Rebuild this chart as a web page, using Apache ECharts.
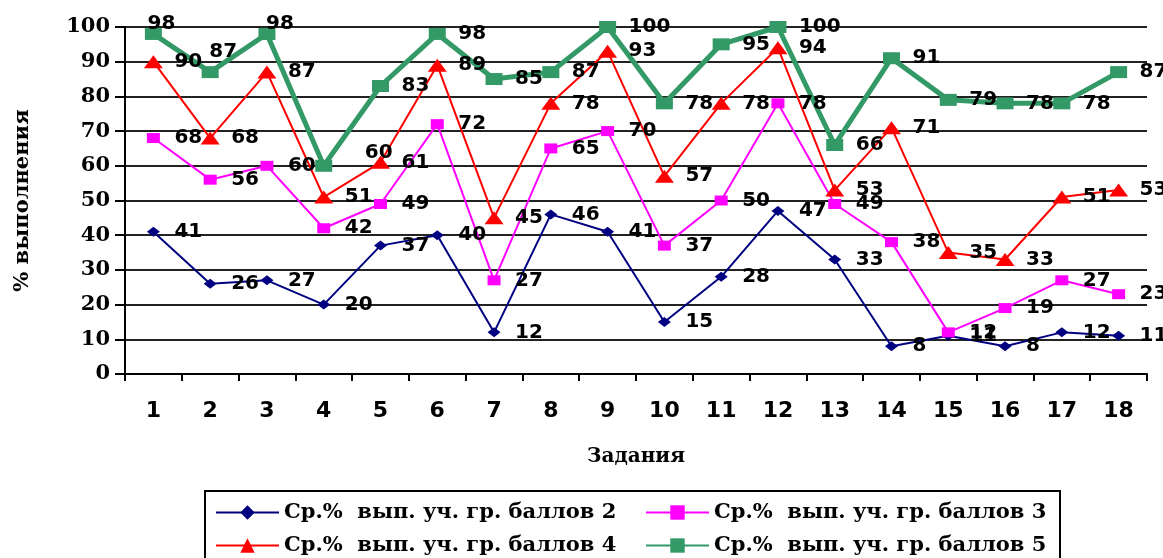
<!DOCTYPE html>
<html>
<head>
<meta charset="utf-8">
<script src="https://cdn.jsdelivr.net/npm/echarts@6/dist/echarts.min.js"></script>
<style>
html,body{margin:0;padding:0;background:#fff;}
#chart{width:1163px;height:558px;}
</style>
</head>
<body>
<div id="chart"></div>
<script>
// ---- data ----
const categories = ['1','2','3','4','5','6','7','8','9','10','11','12','13','14','15','16','17','18'];
const yTicks = [0,10,20,30,40,50,60,70,80,90,100];
const seriesNames = [
  'Ср.%  вып. уч. гр. баллов 2',
  'Ср.%  вып. уч. гр. баллов 3',
  'Ср.%  вып. уч. гр. баллов 4',
  'Ср.%  вып. уч. гр. баллов 5'
];
const score2 = [41, 26, 27, 20, 37, 40, 12, 46, 41, 15, 28, 47, 33, 8, 11, 8, 12, 11];
const score3 = [68, 56, 60, 42, 49, 72, 27, 65, 70, 37, 50, 78, 49, 38, 12, 19, 27, 23];
const score4 = [90, 68, 87, 51, 61, 89, 45, 78, 93, 57, 78, 94, 53, 71, 35, 33, 51, 53];
const score5 = [98, 87, 98, 60, 83, 98, 85, 87, 100, 78, 95, 100, 66, 91, 79, 78, 78, 87];

// ---- styles ----
const SERIF = '"DejaVu Serif", "Liberation Serif", serif';
const SANS = '"DejaVu Sans", Verdana, sans-serif';
const labelFont = { color: '#000', fontFamily: SANS, fontWeight: 'bold', fontSize: 20 };

const styles = [
  { color: '#000080', width: 2, symbol: 'diamond', size: [13, 10] },
  { color: '#FF00FF', width: 2, symbol: 'rect', size: [13, 10] },
  { color: '#FF0000', width: 2, symbol: 'triangle', size: [19, 13] },
  { color: '#339966', width: 5, symbol: 'rect', size: [17, 12] }
];
// per-point label placement overrides (series index -> point index -> label opts)
const labelOverrides = {
  3: {
    0: { position: 'top', distance: 0, offset: [8, 6] },
    1: { position: 'top', distance: 0, offset: [13, -4] },
    2: { position: 'top', distance: 0, offset: [13, 6] },
    3: { position: 'right', offset: [20, -13] }
  }
};

const allData = [score2, score3, score4, score5];

const series = allData.map((vals, si) => {
  const st = styles[si];
  const ov = labelOverrides[si] || {};
  return {
    name: seriesNames[si],
    type: 'line',
    data: vals.map((v, i) => ov[i] ? { value: v, label: ov[i] } : v),
    symbol: st.symbol,
    symbolSize: st.size,
    showAllSymbol: true,
    lineStyle: { color: st.color, width: st.width },
    itemStyle: { color: st.color },
    emphasis: { disabled: true },
    animation: false,
    label: Object.assign({
      show: true,
      position: 'right',
      distance: 21 - st.size[0] / 2
    }, labelFont)
  };
});

function legendAt(name, left, top) {
  return {
    data: [name],
    left: left,
    top: top,
    padding: 0,
    itemWidth: 63,
    itemHeight: 18,
    itemGap: 8,
    selectedMode: false,
    textStyle: { fontFamily: SERIF, fontWeight: 'bold', fontSize: 21, color: '#000' }
  };
}

const chart = echarts.init(document.getElementById('chart'), null, { renderer: 'canvas' });
chart.setOption({
  backgroundColor: '#fff',
  animation: false,
  grid: { left: 125, right: 16, top: 27, bottom: 184, containLabel: false },
  xAxis: {
    type: 'category',
    data: categories,
    boundaryGap: true,
    name: 'Задания',
    nameLocation: 'middle',
    nameGap: 73,
    nameTextStyle: { fontFamily: SERIF, fontWeight: 'bold', fontSize: 20, color: '#000' },
    axisLine: { lineStyle: { color: '#000', width: 2 } },
    axisTick: { show: true, alignWithLabel: false, length: 7, lineStyle: { color: '#000', width: 2 } },
    axisLabel: { margin: 26, fontFamily: SANS, fontWeight: 'bold', fontSize: 22, color: '#000' },
    splitLine: { show: false }
  },
  yAxis: {
    type: 'value',
    min: yTicks[0],
    max: yTicks[yTicks.length - 1],
    interval: yTicks[1] - yTicks[0],
    name: '% выполнения',
    nameLocation: 'middle',
    nameGap: 92,
    nameRotate: 90,
    nameTextStyle: { fontFamily: SERIF, fontWeight: 'bold', fontSize: 21, color: '#000' },
    axisLine: { show: true, lineStyle: { color: '#000', width: 2 } },
    axisTick: { show: true, length: 10, lineStyle: { color: '#000', width: 2 } },
    axisLabel: { margin: 15, fontFamily: SERIF, fontWeight: 'bold', fontSize: 21, color: '#000' },
    splitLine: { show: true, lineStyle: { color: '#222', width: 2 } }
  },
  legend: [
    legendAt(seriesNames[0], 215, 502),
    legendAt(seriesNames[1], 645, 502),
    legendAt(seriesNames[2], 215, 535),
    legendAt(seriesNames[3], 645, 535)
  ],
  graphic: [{
    type: 'rect',
    shape: { x: 205, y: 491, width: 855, height: 90 },
    style: { fill: 'none', stroke: '#000', lineWidth: 2 },
    silent: true
  }],
  series: series
});
</script>
</body>
</html>
